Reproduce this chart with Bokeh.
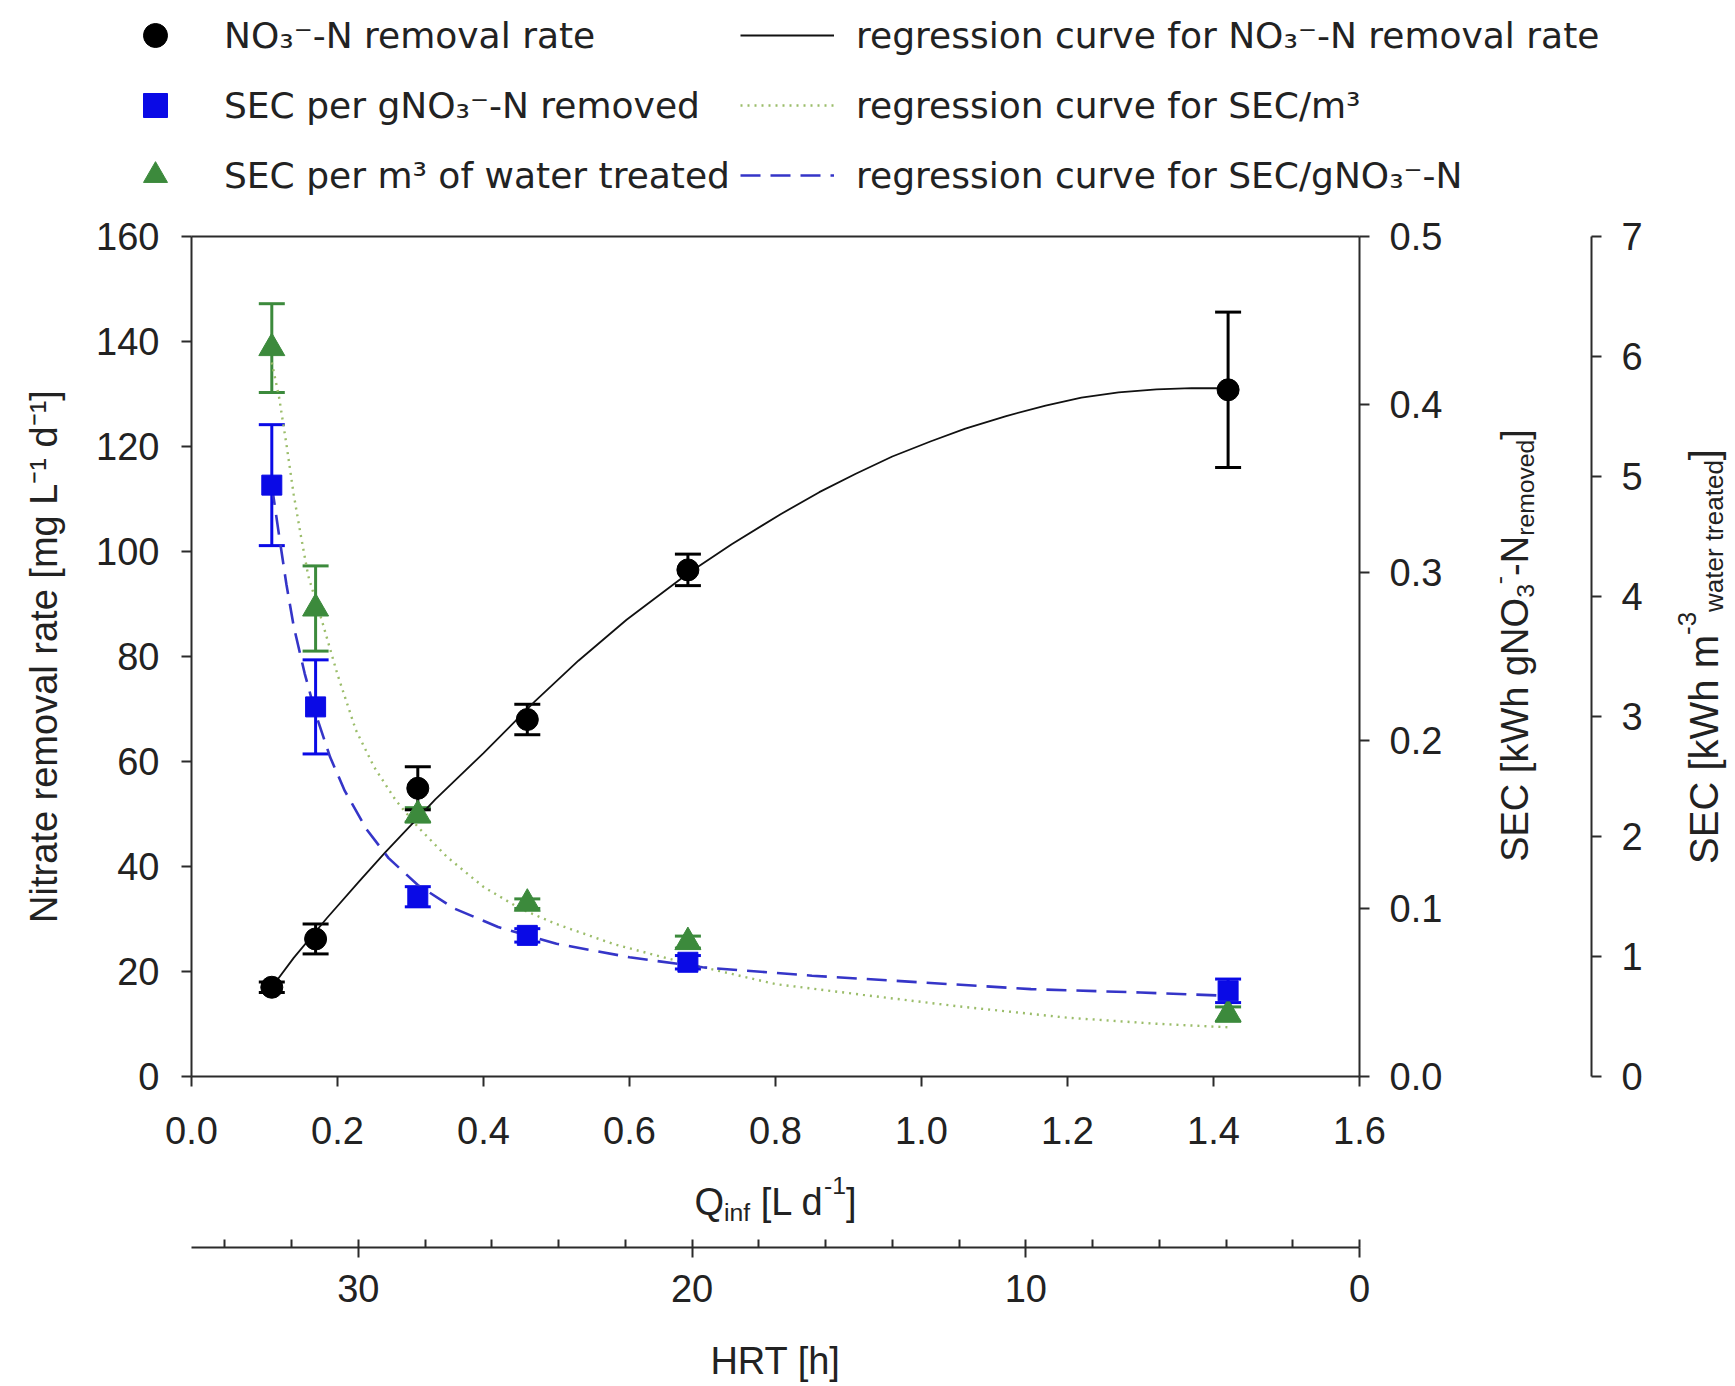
import math
from bokeh.plotting import figure
from bokeh.models import (Range1d, LinearAxis, FixedTicker, SingleIntervalTicker, Whisker, TeeHead,
                          ColumnDataSource, Legend, LegendItem, Label, NumeralTickFormatter)
from bokeh.embed import file_html
from bokeh.resources import INLINE

# ---------------- data ----------------
q_inf = [0.11, 0.17, 0.31, 0.46, 0.68, 1.42]
rate = [17.0, 26.2, 54.9, 68.0, 96.5, 130.8]
rate_err = [1.0, 2.85, 4.1, 2.9, 3.0, 14.8]
sec_g = [0.352, 0.220, 0.107, 0.084, 0.068, 0.051]
sec_g_err = [0.036, 0.028, 0.006, 0.004, 0.004, 0.007]
sec_m3 = [6.07, 3.90, 2.18, 1.44, 1.12, 0.52]
sec_m3_err = [0.37, 0.355, 0.06, 0.04, 0.05, 0.06]

fit_rate_x = [0.11, 0.14, 0.185, 0.23, 0.266, 0.334, 0.40, 0.47, 0.53, 0.596, 0.68, 0.74, 0.807, 0.86,
              0.91, 0.96, 1.013, 1.06, 1.116, 1.17, 1.219, 1.27, 1.322, 1.37, 1.42]
fit_rate_y = [17.0, 22.6, 30.1, 37.2, 42.8, 52.8, 61.6, 71.4, 79.2, 87.0, 95.8, 101.4, 107.1, 111.3,
              114.8, 118.1, 121.0, 123.4, 125.8, 127.8, 129.3, 130.3, 130.9, 131.1, 131.1]

fit_secg_x = [0.11, 0.12, 0.13, 0.14, 0.155, 0.17, 0.19, 0.21, 0.24, 0.27, 0.31, 0.36, 0.42, 0.50, 0.60,
              0.70, 0.85, 1.0, 1.15, 1.30, 1.42]
fit_secg_y = [0.352, 0.322, 0.293, 0.268, 0.240, 0.216, 0.190, 0.170, 0.147, 0.130, 0.114, 0.100, 0.089,
              0.079, 0.071, 0.065, 0.060, 0.056, 0.052, 0.050, 0.048]

fit_secm3_x = [0.11, 0.12, 0.13, 0.14, 0.15, 0.16, 0.18, 0.20, 0.225, 0.25, 0.28, 0.31, 0.35, 0.40, 0.45,
               0.50, 0.58, 0.68, 0.80, 0.92, 1.05, 1.20, 1.32, 1.42]
fit_secm3_y = [5.95, 5.66, 5.27, 4.85, 4.50, 4.17, 3.77, 3.35, 2.89, 2.58, 2.30, 2.08, 1.83, 1.58, 1.40,
               1.27, 1.10, 0.94, 0.77, 0.68, 0.585, 0.49, 0.44, 0.41]

x_ticks_q = [0.0, 0.2, 0.4, 0.6, 0.8, 1.0, 1.2, 1.4, 1.6]

# ---------------- layout constants (canvas pixels) ----------------
W, H = 1735, 1386
FL, FR, FT, FB = 191, 1359, 236, 1076     # plot box edges
AX3_X = 1591                              # third y axis line
HRT_Y = 1247                              # HRT axis line
FONT = "Liberation Sans"
TICK_FS = "38px"
AX_COL = "#2b2b2b"

XMIN, XMAX = 0.0, 1.6
YMIN, YMAX = 0.0, 160.0
G_MAX, M_MAX, HRT_MAX = 0.5, 7.0, 35.0

kx = (FR - FL) / (XMAX - XMIN)
ky = (FB - FT) / (YMAX - YMIN)
kg = (FB - FT) / G_MAX
km = (FB - FT) / M_MAX
kh = (FR - FL) / HRT_MAX

# the frame covers the whole canvas; ranges are extended so the plot box sits where it should
p = figure(width=W, height=H,
           x_range=Range1d(XMIN - FL / kx, XMAX + (W - FR) / kx),
           y_range=Range1d(YMIN - (H - FB) / ky, YMAX + FT / ky),
           output_backend="svg", toolbar_location=None,
           x_axis_location=None, y_axis_location=None,
           min_border_left=0, min_border_right=0, min_border_top=0, min_border_bottom=0)
p.grid.visible = False
p.outline_line_color = None
p.background_fill_color = "white"
p.border_fill_color = "white"

p.extra_y_ranges = {"secg": Range1d(-(H - FB) / kg, G_MAX + FT / kg),
                    "secm3": Range1d(-(H - FB) / km, M_MAX + FT / km)}
p.extra_x_ranges = {"hrt": Range1d(HRT_MAX + FL / kh, -(W - FR) / kh)}


def style(ax, tick_out=10, standoff=20):
    ax.axis_line_color = AX_COL
    ax.axis_line_width = 2
    ax.major_tick_line_color = AX_COL
    ax.major_tick_line_width = 2
    ax.minor_tick_line_color = AX_COL
    ax.minor_tick_line_width = 2
    ax.major_tick_in = 0
    ax.major_tick_out = tick_out
    ax.minor_tick_in = 0
    ax.minor_tick_out = 0
    ax.major_label_standoff = standoff
    ax.major_label_text_font = FONT
    ax.major_label_text_font_size = TICK_FS
    ax.major_label_text_color = "#222222"
    ax.axis_label_text_font = FONT
    ax.axis_label_text_font_size = "38px"
    ax.axis_label_text_font_style = "normal"
    ax.axis_label_text_color = "#222222"


# left axis
ax_left = LinearAxis(ticker=SingleIntervalTicker(interval=20, num_minor_ticks=0),
                     axis_label="Nitrate removal rate [mg L\u207b\u00b9 d\u207b\u00b9]",
                     fixed_location=XMIN, bounds=(YMIN, YMAX))
style(ax_left, 10, 22)
ax_left.axis_label_standoff = 28
p.add_layout(ax_left, "left")

# bottom axis (Q_inf)
ax_bot = LinearAxis(ticker=FixedTicker(ticks=x_ticks_q), formatter=NumeralTickFormatter(format="0.0"),
                    fixed_location=YMIN, bounds=(XMIN, XMAX))
style(ax_bot, 10, 30)
p.add_layout(ax_bot, "below")

# top border of the plot box
ax_top = LinearAxis(ticker=FixedTicker(ticks=[]), fixed_location=YMAX, bounds=(XMIN, XMAX))
style(ax_top, 0, 0)
p.add_layout(ax_top, "above")

# HRT axis
ax_hrt = LinearAxis(x_range_name="hrt", ticker=SingleIntervalTicker(interval=10, num_minor_ticks=5),
                    axis_label="HRT [h]", fixed_location=YMIN - (HRT_Y - FB) / ky, bounds=(0, HRT_MAX))
style(ax_hrt, 10, 17)
ax_hrt.minor_tick_in = 8
ax_hrt.minor_tick_out = 0
ax_hrt.axis_label_standoff = 35
p.add_layout(ax_hrt, "below")

# right axis (SEC per g)
ax_r1 = LinearAxis(y_range_name="secg", ticker=SingleIntervalTicker(interval=0.1, num_minor_ticks=0),
                   formatter=NumeralTickFormatter(format="0.0"), fixed_location=XMAX, bounds=(0, G_MAX))
style(ax_r1, 10, 20)
p.add_layout(ax_r1, "right")

# third axis (SEC per m3)
ax_r2 = LinearAxis(y_range_name="secm3", ticker=SingleIntervalTicker(interval=1, num_minor_ticks=0),
                   fixed_location=XMIN + (AX3_X - FL) / kx, bounds=(0, M_MAX))
style(ax_r2, 10, 20)
p.add_layout(ax_r2, "right")

# ---------------- data sources ----------------
src = ColumnDataSource(dict(
    x=q_inf,
    rate=rate, rate_lo=[v - e for v, e in zip(rate, rate_err)], rate_hi=[v + e for v, e in zip(rate, rate_err)],
    secg=sec_g, secg_lo=[v - e for v, e in zip(sec_g, sec_g_err)], secg_hi=[v + e for v, e in zip(sec_g, sec_g_err)],
    secm3=sec_m3, secm3_lo=[v - e for v, e in zip(sec_m3, sec_m3_err)],
    secm3_hi=[v + e for v, e in zip(sec_m3, sec_m3_err)],
))

BLACK = "#000000"
BLUE = "#0a0ae6"
GREEN = "#3c8a3c"
DASH_BLUE = "#3535c8"
DOT_GREEN = "#9bbd6a"

# regression curves
l_rate = p.line(fit_rate_x, fit_rate_y, line_color="#111111", line_width=1.8)
l_m3 = p.line(fit_secm3_x, fit_secm3_y, line_color=DOT_GREEN, line_width=2.4, line_dash="2 5",
              y_range_name="secm3")
l_g = p.line(fit_secg_x, fit_secg_y, line_color=DASH_BLUE, line_width=2.6, line_dash="20 10",
             y_range_name="secg")


def whisk(lo, hi, color, rng=None):
    kw = {} if rng is None else {"y_range_name": rng}
    w = Whisker(base="x", lower=lo, upper=hi, source=src, line_color=color, line_width=3,
                upper_head=TeeHead(size=26, line_color=color, line_width=3),
                lower_head=TeeHead(size=26, line_color=color, line_width=3), **kw)
    p.add_layout(w)


whisk("secm3_lo", "secm3_hi", GREEN, "secm3")
whisk("secg_lo", "secg_hi", BLUE, "secg")
whisk("rate_lo", "rate_hi", BLACK)

s_m3 = p.scatter("x", "secm3", source=src, marker="triangle", size=26, fill_color=GREEN, line_color=GREEN,
                 y_range_name="secm3")
s_g = p.scatter("x", "secg", source=src, marker="square", size=20, fill_color=BLUE, line_color=BLUE,
                y_range_name="secg")
s_rate = p.scatter("x", "rate", source=src, marker="circle", size=22, fill_color=BLACK, line_color=BLACK)

# ---------------- legend ----------------
legend = Legend(items=[
    LegendItem(label="NO\u2083\u207b-N removal rate", renderers=[s_rate]),
    LegendItem(label="SEC per gNO\u2083\u207b-N removed", renderers=[s_g]),
    LegendItem(label="SEC per m\u00b3 of water treated", renderers=[s_m3]),
    LegendItem(label="regression curve for NO\u2083\u207b-N removal rate", renderers=[l_rate]),
    LegendItem(label="regression curve for SEC/m\u00b3", renderers=[l_m3]),
    LegendItem(label="regression curve for SEC/gNO\u2083\u207b-N", renderers=[l_g]),
], orientation="vertical", nrows=3)
legend.label_text_font = "DejaVu Sans"
legend.label_text_font_size = "36px"
legend.label_text_color = "#222222"
legend.glyph_width = 94
legend.glyph_height = 60
legend.label_standoff = 22
legend.spacing = 10
legend.padding = 0
legend.margin = 0
legend.border_line_color = None
legend.background_fill_alpha = 0
legend.location = (108, H - 205)
p.add_layout(legend)

# ---------------- composed axis titles (sub/superscripts) ----------------
ARIAL_W = {' ': 278, '[': 278, ']': 278, '-': 333, '1': 556, '3': 556, 'S': 667, 'E': 667, 'C': 722,
           'W': 944, 'N': 722, 'O': 778, 'Q': 778, 'L': 556, 'a': 556, 'd': 556, 'e': 556, 'f': 278,
           'g': 556, 'h': 556, 'i': 222, 'k': 500, 'm': 833, 'n': 556, 'o': 556, 'r': 333, 't': 278,
           'v': 500, 'w': 722}


def text_w(s, fs):
    return sum(ARIAL_W.get(c, 556) for c in s) * fs / 1000.0


def rich_title(segs, center, base, vertical, fs=38.0, small=0.65, drop=0.30, rise=0.42):
    sizes = [fs if k == "n" else fs * small for _, k in segs]
    total = sum(text_w(t, s) for (t, _), s in zip(segs, sizes))
    pos = center + total / 2 if vertical else center - total / 2
    sgn = -1 if vertical else 1
    for (txt, kind), size in zip(segs, sizes):
        lead = len(txt) - len(txt.lstrip(" "))
        pos += sgn * text_w(" " * lead, size)          # leading blanks become an offset
        core = txt.strip(" ")
        off = 0.0 if kind == "n" else (-drop * fs if kind == "sub" else rise * fs)
        if vertical:
            X, Y, ang = base - off, pos, math.pi / 2
        else:
            X, Y, ang = pos, base - off, 0.0
        p.add_layout(Label(x=X, y=H - Y, x_units="screen", y_units="screen", text=core, angle=ang,
                           text_font=FONT, text_font_size=f"{size:.1f}px", text_color="#222222",
                           text_align="left", text_baseline="alphabetic"))
        pos += sgn * text_w(txt.lstrip(" "), size)


rich_title([("Q", "n"), ("inf", "sub"), (" [L d", "n"), ("-1", "sup"), ("]", "n")],
           center=(FL + FR) / 2, base=1201, vertical=False)
rich_title([("SEC [kWh gNO", "n"), ("3", "sub"), ("-", "sup"), ("-N", "n"), ("removed", "sub"), ("]", "n")],
           center=645, base=1514, vertical=True)
rich_title([("SEC [kWh m", "n"), ("-3", "sup"), ("water treated", "sub"), ("]", "n")],
           center=656, base=1703, vertical=True, fs=40.0, drop=0.27)

open("out.html", "w").write(file_html(p, INLINE))
